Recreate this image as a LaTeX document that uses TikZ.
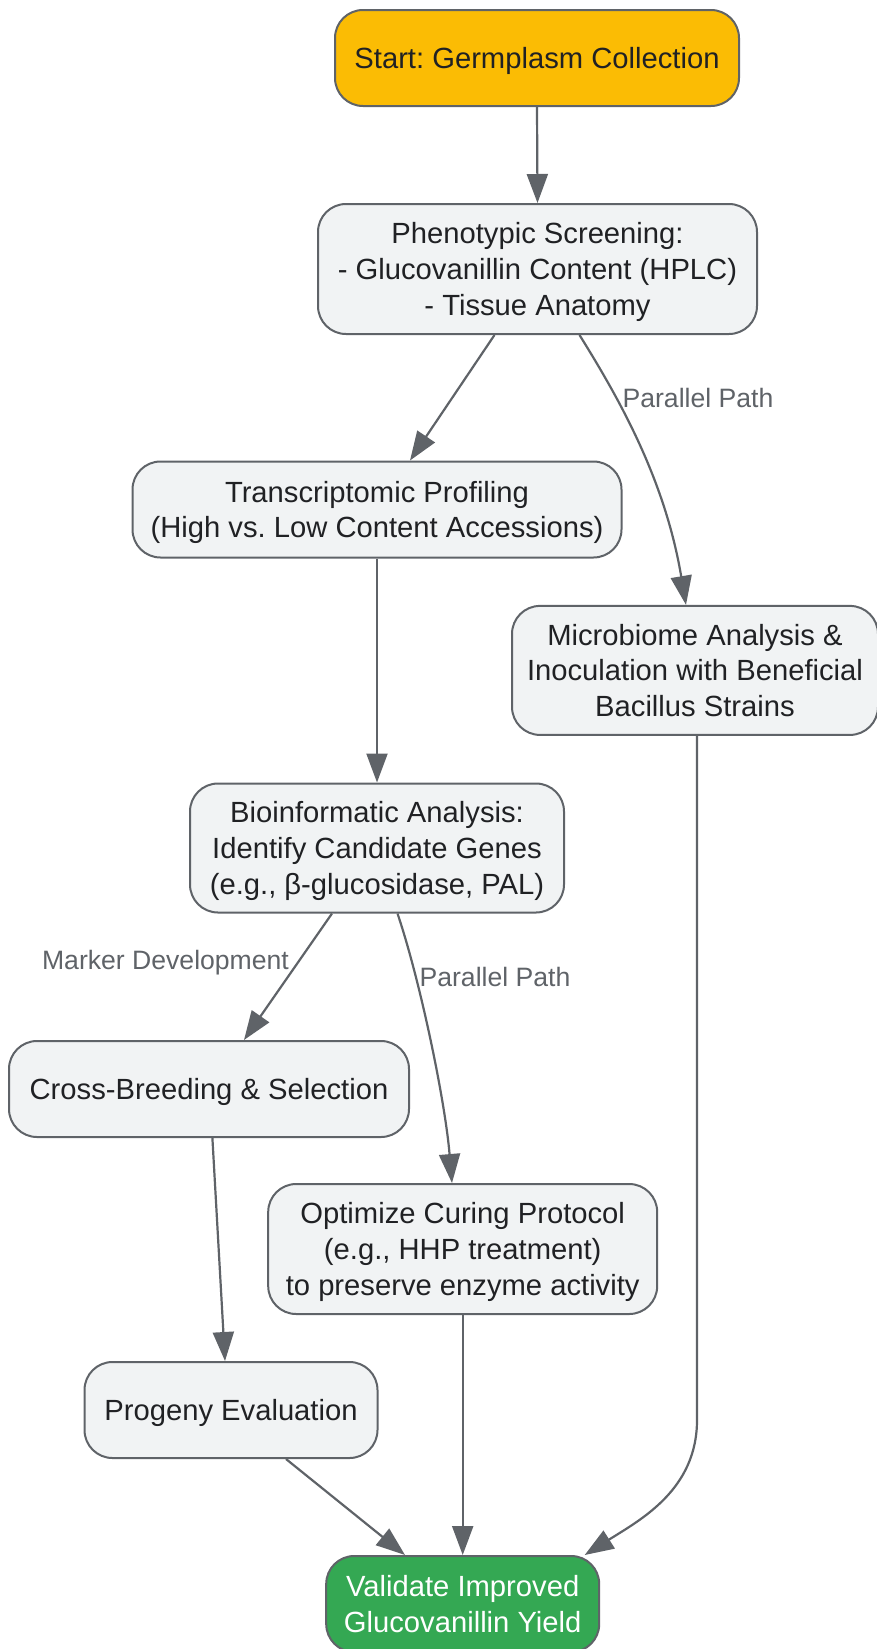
\documentclass[tikz,border=0pt]{standalone}
\usepackage{fontspec}
\setmainfont{Liberation Sans}
\usetikzlibrary{arrows.meta,calc}
\definecolor{edgec}{HTML}{5F6368}
\definecolor{nodefill}{HTML}{F1F3F4}
\definecolor{txt}{HTML}{202124}
\definecolor{startc}{HTML}{FBBC04}
\definecolor{endc}{HTML}{34A853}
\frenchspacing
\begin{document}
\begin{tikzpicture}[x=1pt,y=-1pt,
  box/.style={draw=edgec, line width=2pt, fill=nodefill, rounded corners=28pt, align=center, text=txt, font=\fontsize{29.2}{35.8}\selectfont, inner sep=0pt, text depth=0pt},
  conn/.style={draw=edgec, line width=2.2pt, -{Triangle[length=29pt,width=21pt]}},
  elabel/.style={text=edgec, font=\fontsize{26.6}{30}\selectfont, inner sep=0pt, text depth=0pt}]
\useasboundingbox (0,0) rectangle (876,1649);
\node[box, fill=startc, minimum width=404pt, minimum height=96pt] (start) at (537,58) {Start: Germplasm Collection};
\node[box, minimum width=439pt, minimum height=130pt] (phen) at (537.5,269) {Phenotypic Screening:\\- Glucovanillin Content (HPLC)\\- Tissue Anatomy};
\node[box, minimum width=489pt, minimum height=96pt] (trans) at (377,509.5) {Transcriptomic Profiling\\(High vs. Low Content Accessions)};
\node[box, minimum width=366pt, minimum height=129pt] (micro) at (695,670.4) {Microbiome Analysis \&\\Inoculation with Beneficial\\Bacillus Strains};
\node[box, minimum width=374pt, minimum height=129pt] (bio) at (377,848) {Bioinformatic Analysis:\\Identify Candidate Genes\\(e.g., β-glucosidase, PAL)};
\node[box, minimum width=400pt, minimum height=96pt] (cross) at (209,1089) {Cross-Breeding \& Selection};
\node[box, minimum width=389pt, minimum height=130pt] (opt) at (462.7,1249) {Optimize Curing Protocol\\(e.g., HHP treatment)\\to preserve enzyme activity};
\node[box, minimum width=293pt, minimum height=96pt] (prog) at (231,1410) {Progeny Evaluation};
\node[box, fill=endc, text=white, minimum width=273pt, minimum height=96pt] (val) at (462.7,1604) {Validate Improved\\Glucovanillin Yield};

\node[elabel] (l1) at (698,397.5) {Parallel Path};
\node[elabel] (l2) at (165.5,960) {Marker Development};
\node[elabel] (l3) at (495,977) {Parallel Path};

\draw[conn] (start.south) -- (phen.north);
\draw[conn] ($(phen.south)+(-43,0)$) -- ($(trans.north)+(33,0)$);
\draw[conn] ($(phen.south)+(42,0)$) .. controls (620,400) and (665,480) .. ($(micro.north)+(-9,0)$);
\draw[conn] (trans.south) -- (bio.north);
\draw[conn] ($(bio.south)+(-45,0)$) -- ($(cross.north)+(35,0)$);
\draw[conn] ($(bio.south)+(20.5,0)$) .. controls (420,980) and (445,1100) .. ($(opt.north)+(-10.7,0)$);
\draw[conn] ($(cross.south)+(3.4,0)$) -- ($(prog.north)+(-6,0)$);
\draw[conn] (opt.south) -- (val.north);
\draw[conn] ($(prog.south)+(55,0)$) -- ($(val.north)+(-57.7,0)$);
\draw[conn] ($(micro.south)+(2,0)$) -- (697,1420) .. controls (697,1490) and (640,1520) .. ($(val.north)+(122,0)$);
\end{tikzpicture}
\end{document}
